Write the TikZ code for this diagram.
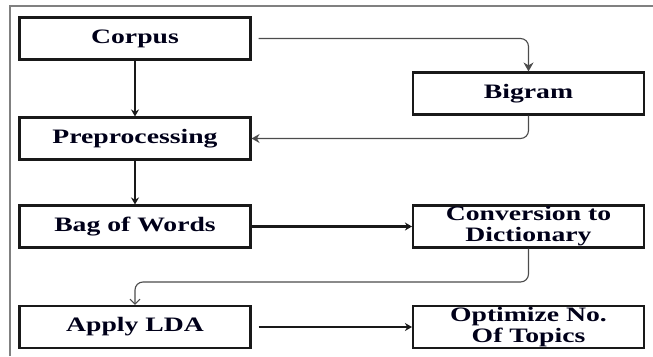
\documentclass[tikz,border=0pt]{standalone}
\usepackage{fontspec}
\setmainfont{Liberation Serif}[FakeStretch=1.35]
\usetikzlibrary{arrows.meta}
\begin{document}
\begin{tikzpicture}[x=1pt,y=-1pt,
  box/.style={draw=black!90, line width=2.1pt, minimum width=231pt, minimum height=42pt,
    inner sep=0pt, font=\fontsize{20.5}{21}\selectfont\bfseries, align=center, text=black!90!blue},
  thinconn/.style={draw=black!70, line width=1.1pt, rounded corners=8pt},
  thickconn/.style={draw=black!90, line width=2.2pt},
  frame/.style={draw=black!50, line width=1.5pt}]
\useasboundingbox (0,0) rectangle (653,356);
\draw[frame] (10,356) -- (10,6) -- (653,6);
\node[box] (corpus) at (135,38.5) {Corpus};
\node[box] (pre) at (135,138.5) {Preprocessing};
\node[box] (bigram) at (528.5,93.5) {Bigram};
\node[box] (bow) at (135,226.5) {Bag of Words};
\node[box] (conv) at (528.5,226.5) {Conversion to\\Dictionary};
\node[box] (lda) at (135,327) {Apply LDA};
\node[box] (opt) at (528.5,327) {Optimize No.\\Of Topics};
\coordinate (m) at (135,282);
\draw[thinconn, -{Stealth[length=9pt,width=10pt]}] ([xshift=7pt]corpus.east) -| (bigram.north);
\draw[thinconn, -{Stealth[length=8pt,width=9pt]}] (bigram.south) |- (pre.east);
\draw[draw=black!90, line width=1.6pt, -{Stealth[length=7pt,width=8pt]}] (corpus.south) -- (pre.north);
\draw[thickconn, -{Stealth[length=7pt,width=8pt]}] (pre.south) -- (bow.north);
\draw[thickconn, -{Stealth[length=7pt,width=8pt]}] (bow.east) -- (conv.west);
\draw[thinconn, -{Straight Barb[length=5pt,width=10pt]}] (conv.south) |- (m) -- (lda.north);
\draw[thickconn, -{Stealth[length=7pt,width=8pt]}] ([xshift=7pt]lda.east) -- (opt.west);
\end{tikzpicture}
\end{document}
